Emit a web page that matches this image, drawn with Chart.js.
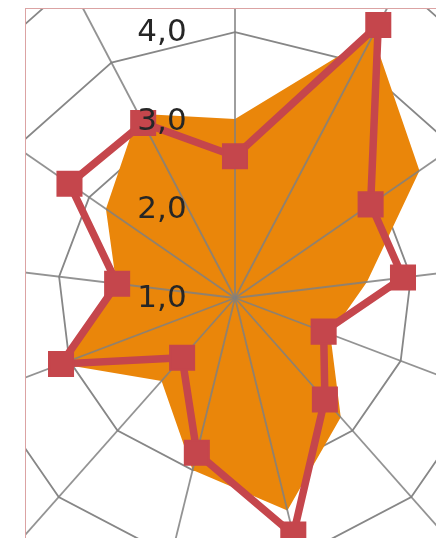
<!DOCTYPE html>
<html>
<head>
<meta charset="utf-8">
<script src="https://cdn.jsdelivr.net/npm/chart.js@4/dist/chart.umd.min.js"></script>
<style>
  html, body { margin: 0; padding: 0; background: #fff; }
  body { width: 436px; height: 538px; position: relative; overflow: hidden; }
  #frame {
    position: absolute; left: 25px; top: 8px;
    width: 430px; height: 540px;
    border-left: 1px solid #dba3a3; border-top: 1px solid #dba3a3;
    overflow: hidden; background: #fff;
  }
  #radar { position: absolute; left: -234px; top: -154px; }
</style>
</head>
<body>
<div id="frame"><canvas id="radar" width="886" height="886"></canvas></div>
<script>
// 13 unlabeled spokes, clockwise from the top
const categories = ['1', '2', '3', '4', '5', '6', '7', '8', '9', '10', '11', '12', '13'];
const areaValues = [3.02, 4.35, 3.53, 2.5, 2.15, 2.8, 3.47, 3.0, 2.25, 3.1, 2.35, 2.77, 3.35];
const lineValues = [2.6, 4.48, 2.86, 2.91, 2.07, 2.53, 3.75, 2.8, 1.9, 3.1, 2.34, 3.27, 3.23];
const tickValues = [1, 2, 3, 4];
const tickLabels = ['1,0', '2,0', '3,0', '4,0'];

const ORANGE = 'rgb(234,134,10)';
const RED = 'rgb(197,70,76)';
const GRID = 'rgb(135,135,135)';

// spokes sit above the orange area but below the red line
const spokesPlugin = {
  id: 'spokes',
  afterDatasetDraw(chart, args) {
    if (args.index !== 1) return;
    const s = chart.scales.r;
    const ctx = chart.ctx;
    ctx.save();
    ctx.strokeStyle = 'rgba(128,128,128,0.85)';
    ctx.lineWidth = 1.8;
    categories.forEach((c, i) => {
      const p = s.getPointPositionForValue(i, s.max);
      ctx.beginPath();
      ctx.moveTo(s.xCenter, s.yCenter);
      ctx.lineTo(p.x, p.y);
      ctx.stroke();
    });
    ctx.restore();
  }
};

// tick labels drawn left of the vertical axis, on top of everything
const tickLabelPlugin = {
  id: 'tickLabels',
  afterDraw(chart) {
    const s = chart.scales.r;
    const ctx = chart.ctx;
    ctx.save();
    ctx.font = '31px "DejaVu Sans"';
    ctx.fillStyle = '#262626';
    ctx.textAlign = 'center';
    ctx.textBaseline = 'middle';
    tickValues.forEach((v, i) => {
      const d = s.getDistanceFromCenterForValue(v);
      ctx.fillText(tickLabels[i], s.xCenter - 73, s.yCenter - d + 1);
    });
    ctx.restore();
  }
};

new Chart(document.getElementById('radar'), {
  type: 'radar',
  data: {
    labels: categories,
    datasets: [
      {
        data: lineValues,
        fill: false,
        borderColor: RED,
        borderWidth: 7.5,
        pointStyle: 'rect',
        pointRadius: 17,
        pointBorderWidth: 2,
        pointBackgroundColor: RED,
        pointBorderColor: RED
      },
      {
        data: areaValues,
        fill: true,
        backgroundColor: ORANGE,
        borderWidth: 0,
        pointRadius: 0
      }
    ]
  },
  options: {
    responsive: false,
    animation: false,
    layout: { padding: 0 },
    plugins: { legend: { display: false }, tooltip: { enabled: false } },
    scales: {
      r: {
        min: 1,
        max: 6,
        ticks: { display: false, stepSize: 1 },
        pointLabels: { display: false },
        angleLines: { display: false },
        grid: { color: GRID, lineWidth: 1.8 }
      }
    }
  },
  plugins: [spokesPlugin, tickLabelPlugin]
});
</script>
</body>
</html>
